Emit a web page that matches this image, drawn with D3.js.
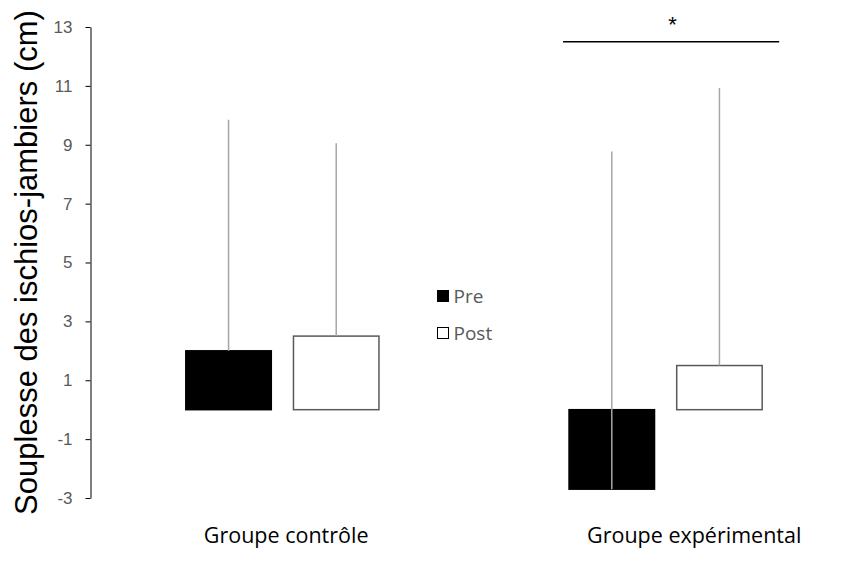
<!DOCTYPE html>
<html>
<head>
<meta charset="utf-8">
<script src="https://cdn.jsdelivr.net/npm/d3@7"></script>
<style>
  body { margin: 0; background: #fff; }
  svg { display: block; }
</style>
</head>
<body>
<svg id="chart" width="846" height="563"></svg>
<script>
// data
const groups = ['Groupe contrôle', 'Groupe expérimental'];
const phases = ['Pre', 'Post'];
const means = [[2.0, 2.5], [-2.7, 1.5]];
const sds = [[7.85, 6.55], [11.47, 9.43]];
const yTicks = [-3, -1, 1, 3, 5, 7, 9, 11, 13];
const sigValue = 12.5;

const width = 846, height = 563;
const svg = d3.select('#chart');

const y = d3.scaleLinear().domain([-3, 13]).range([498, 27]);

const x0 = d3.scaleBand()
  .domain(groups)
  .range([90, 858])
  .paddingInner(0.496)
  .paddingOuter(0.25);

const x1 = d3.scaleBand()
  .domain(phases)
  .range([0, x0.bandwidth()])
  .paddingInner(0.206);

const fill = {Pre: '#000', Post: '#fff'};
const stroke = {Pre: '#000', Post: '#595959'};

// y axis (plain hyphen for negatives, like the original)
const yAxis = svg.append('g')
  .attr('transform', 'translate(90.5,0)')
  .call(d3.axisLeft(y).tickValues(yTicks).tickFormat(d => String(d))
    .tickSize(5).tickSizeOuter(0).tickPadding(13));
yAxis.select('.domain').attr('stroke', '#000');
yAxis.selectAll('.tick line').attr('stroke', '#000');
yAxis.selectAll('.tick text')
  .attr('fill', '#595959')
  .style('font-family', '"Liberation Sans", Arial, sans-serif')
  .style('font-size', '17px');

svg.append('text')
  .attr('transform', `translate(37,${(y(-3) + y(13)) / 2}) rotate(-90)`)
  .attr('text-anchor', 'middle')
  .style('font-family', '"Liberation Sans", Arial, sans-serif')
  .style('font-size', '31px')
  .text('Souplesse des ischios-jambiers (cm)');

// bars
const rows = [];
groups.forEach((g, i) => phases.forEach((p, j) => rows.push({g, p, m: means[i][j], sd: sds[i][j]})));

const bar = svg.append('g').selectAll('g')
  .data(rows)
  .join('g')
  .attr('transform', d => `translate(${x0(d.g) + x1(d.p)},0)`);

bar.append('rect')
  .attr('x', 0)
  .attr('width', x1.bandwidth())
  .attr('y', d => y(Math.max(0, d.m)))
  .attr('height', d => Math.abs(y(d.m) - y(0)))
  .attr('fill', d => fill[d.p])
  .attr('stroke', d => stroke[d.p])
  .attr('stroke-width', 1.5);

// error bars (plus direction only)
bar.append('line')
  .attr('x1', x1.bandwidth() / 2)
  .attr('x2', x1.bandwidth() / 2)
  .attr('y1', d => y(d.m))
  .attr('y2', d => y(d.m + d.sd))
  .attr('stroke', '#a6a6a6')
  .attr('stroke-width', 1.5);

// category labels
svg.append('g').selectAll('text')
  .data(groups)
  .join('text')
  .attr('x', d => x0(d) + 18)
  .attr('y', 543)
  .style('font-family', '"Open Sans", "Noto Sans", sans-serif')
  .style('font-size', '21.5px')
  .attr('fill', '#000')
  .text(d => d);

// legend
const legend = svg.append('g').selectAll('g')
  .data(phases)
  .join('g')
  .attr('transform', (d, i) => `translate(437.5,${290.5 + i * 37})`);
legend.append('rect')
  .attr('width', 11).attr('height', 11)
  .attr('fill', d => fill[d])
  .attr('stroke', '#000')
  .attr('stroke-width', 1);
legend.append('text')
  .attr('x', 16).attr('y', 12)
  .attr('fill', '#595959')
  .style('font-family', '"Open Sans", "Noto Sans", sans-serif')
  .style('font-size', '19px')
  .text(d => d);

// significance
const gx = x0(groups[1]);
svg.append('line')
  .attr('x1', gx - 6).attr('x2', gx + x0.bandwidth() + 17)
  .attr('y1', y(sigValue)).attr('y2', y(sigValue))
  .attr('stroke', '#000').attr('stroke-width', 1.5);
svg.append('text')
  .attr('x', gx + x0.bandwidth() / 2 + 7)
  .attr('y', 32)
  .attr('text-anchor', 'middle')
  .style('font-family', '"Liberation Sans", Arial, sans-serif')
  .style('font-size', '22px')
  .text('*');
</script>
</body>
</html>
